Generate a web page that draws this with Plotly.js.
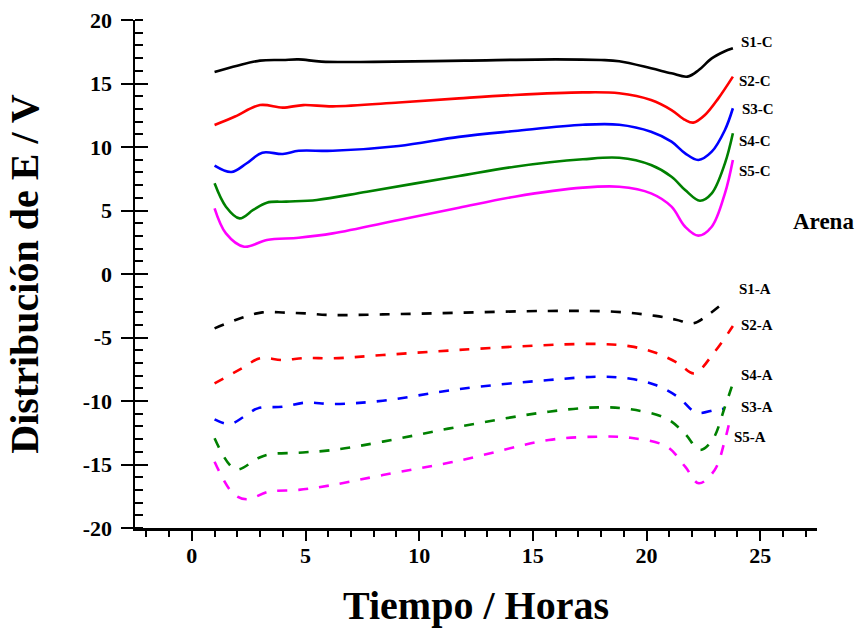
<!DOCTYPE html>
<html>
<head>
<meta charset="utf-8">
<script src="https://cdn.plot.ly/plotly-3.0.1.min.js"></script>
<style>html,body{margin:0;padding:0;background:#fff;}#chart{width:858px;height:628px;}</style>
</head>
<body>
<div id="chart"></div>
<script>
// ---- data ----
const seriesNames = ["S1-C","S2-C","S3-C","S4-C","S5-C","S1-A","S2-A","S3-A","S4-A","S5-A"];
const colors = ["#000000","#ff0000","#0000ff","#008000","#ff00ff"];

const xS1C = [1, 2, 3, 4, 4.7, 5.7, 8, 12, 16, 18, 18.8, 20.2, 21.1, 21.8, 22.3, 22.87, 23.4, 23.8];
const yS1C = [15.9, 16.4, 16.8, 16.85, 16.9, 16.72, 16.7, 16.8, 16.9, 16.85, 16.75, 16.2, 15.8, 15.54, 16.06, 16.98, 17.5, 17.77];

const xS2C = [1, 1.9, 3.0, 4.0, 4.9, 6.2, 9.1, 11.75, 14.2, 17.2, 18.8, 20.2, 21.1, 21.7, 22.06, 22.57, 23.16, 23.8];
const yS2C = [11.73, 12.4, 13.3, 13.1, 13.3, 13.2, 13.5, 13.83, 14.1, 14.3, 14.23, 13.7, 12.91, 12.13, 11.92, 12.52, 13.83, 15.54];

const xS3C = [1, 1.74, 2.4, 3.1, 4.0, 4.7, 6.2, 9.1, 11.75, 14.2, 17.2, 18.8, 20.2, 21.1, 21.7, 22.28, 22.87, 23.45, 23.8];
const yS3C = [8.53, 8.03, 8.7, 9.55, 9.45, 9.7, 9.7, 10.08, 10.8, 11.26, 11.75, 11.75, 11.2, 10.42, 9.5, 8.98, 9.63, 11.34, 13.05];

const xS4C = [1, 1.5, 2.1, 2.7, 3.3, 4.15, 5.5, 7.7, 11.75, 14.2, 17.2, 18.8, 20.2, 21.1, 21.7, 22.35, 22.87, 23.45, 23.8];
const yS4C = [7.14, 5.3, 4.38, 5.04, 5.62, 5.7, 5.83, 6.48, 7.72, 8.45, 9.03, 9.15, 8.58, 7.66, 6.61, 5.77, 6.35, 8.71, 11.08];

const xS5C = [1, 1.5, 2.3, 3.3, 4.7, 6.2, 9.1, 11.75, 14.2, 17.2, 18.8, 20.2, 21.1, 21.7, 22.28, 22.87, 23.45, 23.8];
const yS5C = [5.17, 3.2, 2.15, 2.68, 2.86, 3.2, 4.25, 5.22, 6.09, 6.8, 6.87, 6.35, 5.3, 3.72, 3.02, 3.72, 6.35, 8.98];

const xS1A = [1, 2.2, 3.1, 4.1, 5.0, 6.05, 8.4, 11.75, 15.7, 18.6, 20.4, 21.3, 22.06, 22.7, 23.5];
const yS1A = [-4.28, -3.44, -3.02, -3.04, -3.1, -3.23, -3.18, -3.05, -2.91, -2.97, -3.3, -3.6, -3.88, -3.23, -2.1];

const xS2A = [1, 2.2, 3.0, 4.0, 5.0, 6.2, 8.4, 11.75, 15.7, 17.9, 19.3, 20.4, 21.4, 22.1, 23.0, 23.8];
const yS2A = [-8.61, -7.43, -6.64, -6.77, -6.61, -6.64, -6.38, -5.98, -5.59, -5.51, -5.7, -6.2, -7.03, -7.82, -6.12, -4.1];

const xS3A = [1, 1.67, 2.3, 2.9, 4.0, 5.0, 6.2, 8.4, 11.75, 15.7, 17.9, 19.3, 20.4, 21.4, 22.2, 23.0, 23.45];
const yS3A = [-11.44, -11.81, -11.23, -10.58, -10.45, -10.13, -10.24, -9.98, -9.06, -8.35, -8.09, -8.25, -8.74, -9.7, -10.92, -10.71, -10.6];

const xS4A = [1, 1.93, 2.9, 3.4, 4.7, 6.2, 8.4, 11.75, 15.7, 17.9, 19.3, 20.9, 21.7, 22.35, 22.9, 23.45, 23.8];
const yS4A = [-12.94, -15.38, -14.51, -14.2, -14.07, -13.86, -13.2, -12.02, -10.84, -10.5, -10.65, -11.4, -12.6, -13.86, -13.07, -10.45, -8.61];

const xS5A = [1, 1.81, 2.4, 3.4, 4.7, 6.2, 8.4, 11.75, 15.7, 17.9, 19.3, 20.9, 21.7, 22.3, 23.0, 23.45, 23.7];
const yS5A = [-14.78, -17.27, -17.74, -17.14, -17.0, -16.61, -15.83, -14.7, -13.07, -12.81, -12.9, -13.6, -15.17, -16.48, -15.43, -13.07, -11.24];

// axis ticks
const xTickVals = [0, 5, 10, 15, 20, 25];
const xTickText = ["0", "5", "10", "15", "20", "25"];
const yTickVals = [-20, -15, -10, -5, 0, 5, 10, 15, 20];
const yTickText = ["-20", "-15", "-10", "-5", "0", "5", "10", "15", "20"];

// label positions (data coordinates)
const labelX = [24.05, 24.0, 24.1, 24.0, 24.0, 24.0, 24.05, 24.05, 24.05, 23.75];
const labelY = [18.3, 15.2, 13.0, 10.5, 8.15, -1.2, -4.05, -10.45, -7.95, -12.8];
const groupLabel = "Arena";
const groupLabelPos = [26.35, 4.1];

const xTitle = "Tiempo / Horas";
const yTitle = "Distribución de E / V";

// ---- traces ----
const xs = [xS1C, xS2C, xS3C, xS4C, xS5C, xS1A, xS2A, xS3A, xS4A, xS5A];
const ys = [yS1C, yS2C, yS3C, yS4C, yS5C, yS1A, yS2A, yS3A, yS4A, yS5A];
const traces = xs.map((x, i) => ({
  type: 'scatter', mode: 'lines', x: x, y: ys[i], name: seriesNames[i],
  line: {color: colors[i % 5], width: 2.6, shape: 'spline', smoothing: 1,
         dash: i < 5 ? 'solid' : '10px,11px'},
  showlegend: false, hoverinfo: 'skip'
}));
traces.push({type: 'scatter', mode: 'lines', x: [], y: [], yaxis: 'y2', showlegend: false, hoverinfo: 'skip'});

const serif = 'Liberation Serif, Times New Roman, serif';
const bold = s => '<b>' + s + '</b>';
const annotations = seriesNames.map((n, i) => ({
  x: labelX[i], y: labelY[i], xref: 'x', yref: 'y', text: bold(n),
  showarrow: false, xanchor: 'left', yanchor: 'middle',
  font: {family: serif, size: 15, color: '#000'}
}));
annotations.push({x: groupLabelPos[0], y: groupLabelPos[1], xref: 'x', yref: 'y',
  text: bold(groupLabel), showarrow: false, xanchor: 'left', yanchor: 'middle',
  font: {family: serif, size: 23, color: '#000'}});

const layout = {
  width: 858, height: 628,
  margin: {l: 135, r: 41, t: 20, b: 100},
  paper_bgcolor: '#fff', plot_bgcolor: '#fff',
  showlegend: false,
  font: {family: serif, color: '#000'},
  xaxis: {
    range: [-2.5, 27.5], tickmode: 'array', tickvals: xTickVals, ticktext: xTickText.map(bold),
    ticks: 'outside', ticklen: 10, tickwidth: 2, tickcolor: '#000',
    minor: {ticks: 'outside', ticklen: 6, tickwidth: 2, tickcolor: '#000', dtick: 1, tick0: 0, showgrid: false},
    showline: true, linewidth: 2.5, linecolor: '#000',
    showgrid: false, zeroline: false, ticklabelstandoff: -4,
    tickfont: {family: serif, size: 22, color: '#000'},
    title: {text: bold(xTitle), font: {family: serif, size: 40, color: '#000'}, standoff: 26}
  },
  yaxis: {
    range: [-20, 20], tickmode: 'array', tickvals: yTickVals, ticktext: yTickText.map(bold),
    ticks: 'outside', ticklen: 12, tickwidth: 2, tickcolor: '#000',
    minor: {ticks: 'inside', ticklen: 8, tickwidth: 2, tickcolor: '#000', dtick: 1, tick0: 0, showgrid: false},
    showline: true, linewidth: 2.5, linecolor: '#000',
    showgrid: false, zeroline: false, ticklabelstandoff: 4,
    tickfont: {family: serif, size: 22, color: '#000'},
    title: {text: bold(yTitle), font: {family: serif, size: 40, color: '#000'}, standoff: 32}
  },
  yaxis2: {
    overlaying: 'y', side: 'left', anchor: 'x', range: [-20, 20],
    tickmode: 'linear', tick0: 0, dtick: 5,
    ticks: 'inside', ticklen: 13, tickwidth: 2, tickcolor: '#000',
    showticklabels: false, showgrid: false, zeroline: false, showline: false
  },
  annotations: annotations
};

Plotly.newPlot('chart', traces, layout, {displayModeBar: false, staticPlot: true});
</script>
</body>
</html>
